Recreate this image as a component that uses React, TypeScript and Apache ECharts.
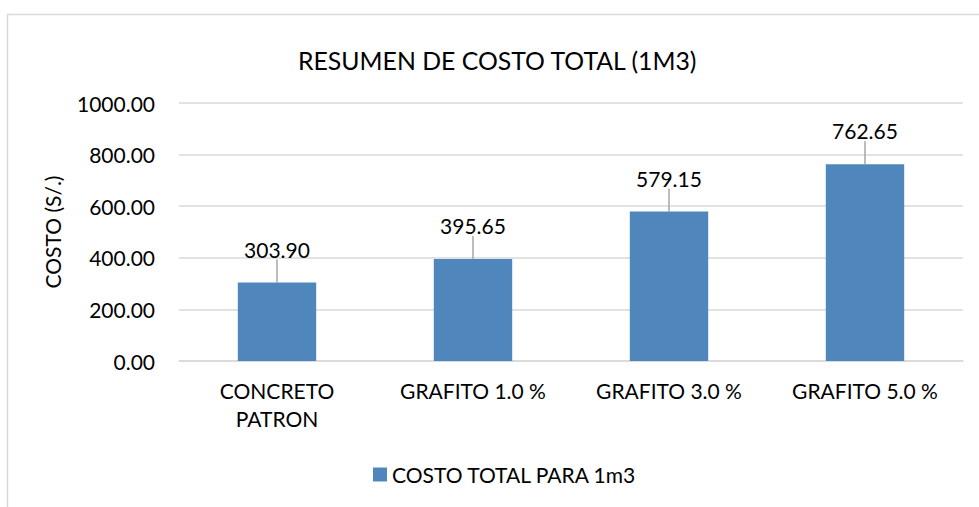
import React, { useEffect, useRef } from "react";
import * as echarts from "echarts";

const categories = ["CONCRETO\nPATRON", "GRAFITO 1.0 %", "GRAFITO 3.0 %", "GRAFITO 5.0 %"];
const costValues = [303.9, 395.65, 579.15, 762.65];
const seriesName = "COSTO TOTAL PARA 1m3";
const chartTitle = "RESUMEN DE COSTO TOTAL (1M3)";
const yAxisName = "COSTO (S/.)";

const FONT = "Lato, 'Noto Sans', sans-serif";

export default function App() {
  const ref = useRef<HTMLDivElement>(null);
  useEffect(() => {
    if (!ref.current) return;
    const chart = echarts.init(ref.current, undefined, { renderer: "svg" });
    chart.setOption({
      animation: false,
      backgroundColor: "#ffffff",
      textStyle: { fontFamily: FONT },
      graphic: [
        {
          type: "rect",
          shape: { x: 7.5, y: 14.5, width: 1100, height: 700 },
          style: { fill: "none", stroke: "#d9d9d9", lineWidth: 1.5 },
          silent: true,
        },
      ],
      title: {
        text: chartTitle,
        left: 293,
        top: 43,
        textStyle: { fontFamily: FONT, fontSize: 24.8, fontWeight: "normal", color: "#000" },
      },
      legend: {
        top: 459,
        left: 368,
        icon: "rect",
        itemWidth: 14,
        itemHeight: 14,
        itemGap: 6,
        textStyle: { fontFamily: FONT, fontSize: 21, color: "#000" },
        data: [seriesName],
      },
      grid: { left: 179, right: 16, top: 103, bottom: 146, containLabel: false },
      xAxis: {
        type: "category",
        data: categories,
        axisLine: { lineStyle: { color: "#d9d9d9", width: 1.5 } },
        axisTick: { show: false },
        axisLabel: {
          fontFamily: FONT,
          fontSize: 21,
          color: "#000",
          margin: 15,
          lineHeight: 28,
        },
      },
      yAxis: {
        type: "value",
        min: 0,
        max: 1000,
        interval: 200,
        name: yAxisName,
        nameLocation: "middle",
        nameGap: 116,
        nameRotate: 90,
        nameTextStyle: { fontFamily: FONT, fontSize: 21, color: "#000" },
        axisLine: { show: false },
        axisTick: { show: false },
        splitLine: { lineStyle: { color: "#d9d9d9", width: 1.5 } },
        axisLabel: {
          fontFamily: FONT,
          fontSize: 21,
          color: "#000",
          margin: 24,
          formatter: (v: number) => v.toFixed(2),
        },
      },
      series: [
        {
          name: seriesName,
          type: "bar",
          data: costValues,
          barWidth: "40%",
          itemStyle: { color: "#4f87bd" },
          label: {
            show: true,
            position: "top",
            distance: 5,
            fontFamily: FONT,
            fontSize: 21,
            color: "#000",
            formatter: (p: any) => Number(p.value).toFixed(2),
          },
          labelLayout: { dy: -18 },
          labelLine: { show: true, lineStyle: { color: "#a6a6a6", width: 1.5 } },
        },
      ],
    });
    return () => chart.dispose();
  }, []);
  return (
    <div
      ref={ref}
      style={{ position: "fixed", left: 0, top: 0, width: 979, height: 507 }}
    />
  );
}
